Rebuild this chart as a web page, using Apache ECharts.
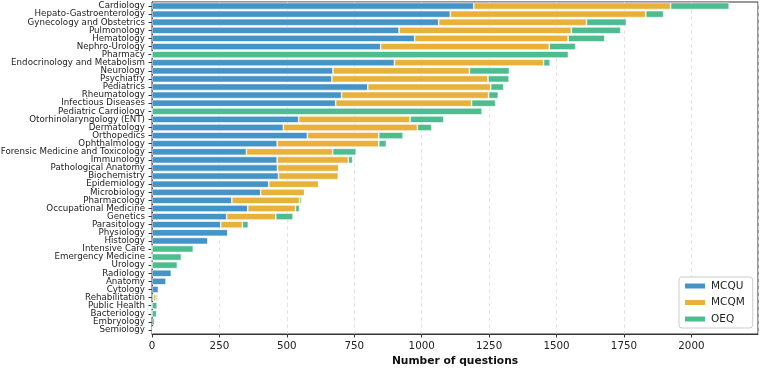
<!DOCTYPE html>
<html>
<head>
<meta charset="utf-8">
<script src="https://cdn.jsdelivr.net/npm/echarts@6/dist/echarts.min.js"></script>
<style>html,body{margin:0;padding:0;background:#fff}#c{width:760px;height:370px}</style>
</head>
<body>
<div id="c"></div>
<script>
const categories = ["Cardiology","Hepato-Gastroenterology","Gynecology and Obstetrics","Pulmonology","Hematology","Nephro-Urology","Pharmacy","Endocrinology and Metabolism","Neurology","Psychiatry","Pediatrics","Rheumatology","Infectious Diseases","Pediatric Cardiology","Otorhinolaryngology (ENT)","Dermatology","Orthopedics","Ophthalmology","Forensic Medicine and Toxicology","Immunology","Pathological Anatomy","Biochemistry","Epidemiology","Microbiology","Pharmacology","Occupational Medicine","Genetics","Parasitology","Physiology","Histology","Intensive Care","Emergency Medicine","Urology","Radiology","Anatomy","Cytology","Rehabilitation","Public Health","Bacteriology","Embryology","Semiology"];
const mcqu = [1193,1106,1063,916,974,848,0,899,671,667,800,703,681,0,544,487,576,464,350,464,465,469,433,403,296,355,277,255,281,208,0,0,0,72,53,24,5,0,0,9,2];
const mcqm = [730,725,548,639,569,625,0,553,506,579,456,545,504,0,413,497,265,377,320,264,228,222,185,163,251,177,182,80,0,0,0,0,0,0,0,0,10,0,0,0,0];
const oeq  = [217,66,148,183,136,98,1544,24,148,78,48,36,89,1224,125,53,90,28,87,16,0,0,0,0,7,15,64,22,0,0,153,109,94,0,0,0,6,19,17,0,0];
const xTicks = [0,250,500,750,1000,1250,1500,1750,2000];
const seriesNames = ["MCQU","MCQM","OEQ"];
const colors = ["#4594C7","#E8B13A","#4DBD8F"];

const chart = echarts.init(document.getElementById('c'), null, {renderer:'canvas'});
const font = "DejaVu Sans";
const vals = [mcqu, mcqm, oeq];
chart.setOption({
  animation:false,
  textStyle:{fontFamily:font},
  grid:{left:152, right:2, top:2, bottom:36, containLabel:false, outerBoundsMode:'none',
    show:true, borderColor:'#333', borderWidth:1, backgroundColor:'transparent'},
  legend:{
    data:seriesNames, orient:'vertical', left:679, top:277,
    icon:'rect', itemWidth:22, itemHeight:7, itemGap:4.5,
    padding:[3,8,3,4],
    backgroundColor:'#fff', borderColor:'#ccc', borderWidth:1, borderRadius:3,
    textStyle:{fontFamily:font, fontSize:10.5, color:'#222', lineHeight:12}
  },
  xAxis:{
    type:'value', min:0, max:2247, interval:250,
    axisLine:{show:true, lineStyle:{color:'#333', width:1}},
    axisTick:{show:true, length:3.5, lineStyle:{color:'#333'}},
    axisLabel:{fontFamily:font, fontSize:10.3, color:'#222', margin:7, showMaxLabel:false,
      formatter:v => xTicks.includes(v) ? String(v) : ''},
    splitLine:{show:true, lineStyle:{color:'#ddd', type:[4,3], width:0.8}},
    name:'Number of questions', nameLocation:'middle', nameGap:22,
    nameTextStyle:{fontFamily:font, fontSize:10.7, fontWeight:'bold', color:'#111'}
  },
  yAxis:{
    type:'category', data:categories, inverse:true,
    axisLine:{show:true, lineStyle:{color:'#333', width:1}},
    axisTick:{show:true, alignWithLabel:true, length:3.5, lineStyle:{color:'#333'}},
    axisLabel:{fontFamily:font, fontSize:8.7, color:'#222', margin:7, interval:0},
    splitLine:{show:false}
  },
  series: seriesNames.map((n,i)=>({
    name:n, type:'bar', stack:'total', data:vals[i], barWidth:'85%',
    itemStyle:{color:colors[i], borderColor:'#fff', borderWidth:0.6}
  }))
});
</script>
</body>
</html>
